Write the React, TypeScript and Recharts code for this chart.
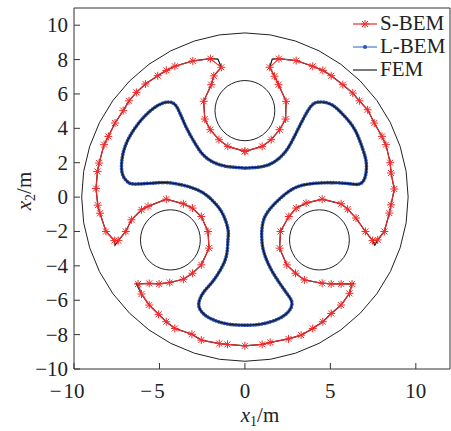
import React from "react";
import { ScatterChart, Scatter, XAxis, YAxis, ReferenceLine } from "recharts";

// ---- data (x1, x2 in metres) ----

// S-BEM nodes, closed contour, clockwise from the inner point under the top hole
const sBemNodes: [number, number][] = [
  [0, 2.66], [-1.0, 2.95], [-1.52, 3.34], [-2.03, 3.92], [-2.35, 4.54], [-2.41, 5.57],
  [-1.97, 6.54], [-1.82, 7.05], [-1.38, 7.55], [-2.02, 8.05], [-3.05, 7.92], [-4.1, 7.61],
  [-4.6, 7.37], [-5.1, 7.06], [-5.82, 6.58], [-6.35, 6.09], [-6.78, 5.6], [-7.12, 5.03],
  [-7.6, 4.31], [-7.99, 3.53], [-8.24, 3.05], [-8.53, 1.98], [-8.63, 1.49], [-8.71, 0.5],
  [-8.61, -0.47], [-8.48, -0.94], [-8.13, -2.0], [-7.64, -2.53], [-7.41, -2.53], [-6.97, -2.0],
  [-6.64, -1.32], [-6.05, -0.74], [-5.67, -0.54], [-4.6, -0.12], [-3.6, -0.39], [-3.07, -0.64],
  [-2.55, -1.13], [-2.16, -2.0], [-2.1, -2.97], [-2.55, -3.94], [-3.07, -4.43], [-3.6, -4.78],
  [-4.4, -4.97], [-5.02, -5.05], [-5.6, -5.02], [-6.25, -5.05], [-6.05, -5.64], [-5.6, -6.28],
  [-5.05, -6.82], [-4.6, -7.25], [-4.1, -7.64], [-3.1, -7.98], [-2.55, -8.32], [-1.5, -8.52],
  [-1.02, -8.57], [0, -8.65], [1.01, -8.57], [1.48, -8.45], [2.55, -8.25], [3.29, -8.03],
  [3.97, -7.64], [4.56, -7.25], [5.05, -6.77], [5.63, -6.28], [6.12, -5.6], [6.27, -5.05],
  [5.63, -5.05], [5.05, -5.05], [4.52, -5.01], [3.48, -4.82], [2.96, -4.43], [2.45, -3.94],
  [2.03, -2.97], [2.08, -2.0], [2.57, -1.13], [3.0, -0.64], [3.58, -0.35], [4.52, -0.12],
  [5.63, -0.39], [6.01, -0.7], [6.5, -1.22], [7.05, -2.0], [7.47, -2.53], [7.77, -2.49],
  [8.16, -2.0], [8.45, -0.93], [8.55, -0.45], [8.74, 0.47], [8.55, 1.4], [8.5, 2.0],
  [8.25, 3.05], [8.02, 3.53], [7.57, 4.31], [7.18, 5.08], [6.7, 5.6], [6.31, 6.05],
  [5.73, 6.54], [5.05, 7.06], [4.56, 7.37], [3.97, 7.61], [3.0, 7.94], [1.99, 8.05],
  [1.45, 7.55], [1.73, 7.03], [1.97, 6.54], [2.41, 5.57], [2.38, 4.54], [2.03, 3.92],
  [1.54, 3.34], [1.01, 2.95], [0, 2.66],
];

// FEM contour follows the same path but reaches the sharp corners: [insert after node, x1, x2]
const femCorners: [number, number, number][] = [
  [8, -1.58, 8.03], [27, -7.6, -2.8], [45, -6.36, -5.03],
  [65, 6.38, -5.03], [82, 7.6, -2.8], [101, 1.6, 8.03],
];

// L-BEM contour (dense nodes), closed
const lBemNodes: [number, number][] = [
  [0, 1.69], [-1.09, 1.79], [-1.87, 2.04], [-2.45, 2.47], [-2.93, 3.15], [-3.42, 4.03],
  [-3.81, 4.9], [-4.1, 5.39], [-4.49, 5.53], [-5.08, 5.34], [-5.76, 4.81], [-6.35, 4.13],
  [-6.83, 3.36], [-7.12, 2.58], [-7.22, 1.81], [-7.12, 1.22], [-6.83, 0.86], [-6.35, 0.76],
  [-5.18, 0.83], [-4.4, 0.83], [-3.42, 0.64], [-2.45, 0.25], [-1.77, -0.33], [-1.28, -1.01],
  [-0.99, -1.88], [-0.99, -2.47], [-1.09, -3.44], [-1.48, -4.31], [-1.96, -5.0], [-2.45, -5.58],
  [-2.7, -6.2], [-2.55, -6.65], [-2.06, -7.04], [-1.09, -7.37], [0, -7.45], [1.05, -7.37],
  [2.22, -6.94], [2.75, -6.26], [2.51, -5.68], [2.03, -5.0], [1.54, -4.22], [1.15, -3.34],
  [0.99, -2.47], [1.05, -1.5], [1.44, -0.72], [2.22, 0.06], [3.19, 0.64], [4.56, 0.83],
  [5.92, 0.8], [6.7, 0.76], [7.05, 1.22], [7.1, 2.0], [6.9, 2.78], [6.42, 3.94],
  [5.73, 4.81], [5.05, 5.39], [4.33, 5.53], [3.88, 5.3], [3.4, 4.52], [2.81, 3.36],
  [2.32, 2.58], [1.64, 2.0], [0.86, 1.75], [0, 1.69],
];

// circular boundaries: outer wall and the three holes
const outerRadius = 9.55;
const holeRadius = 1.75;
const holeCenters: [number, number][] = [[0, 5.03], [-4.36, -2.49], [4.36, -2.49]];
// unit 40-gon (cos, sin every 9 degrees)
const unitRing: [number, number][] = [
  [1, 0], [0.988, 0.156], [0.951, 0.309], [0.891, 0.454], [0.809, 0.588], [0.707, 0.707],
  [0.588, 0.809], [0.454, 0.891], [0.309, 0.951], [0.156, 0.988], [0, 1], [-0.156, 0.988],
  [-0.309, 0.951], [-0.454, 0.891], [-0.588, 0.809], [-0.707, 0.707], [-0.809, 0.588],
  [-0.891, 0.454], [-0.951, 0.309], [-0.988, 0.156], [-1, 0], [-0.988, -0.156],
  [-0.951, -0.309], [-0.891, -0.454], [-0.809, -0.588], [-0.707, -0.707], [-0.588, -0.809],
  [-0.454, -0.891], [-0.309, -0.951], [-0.156, -0.988], [0, -1], [0.156, -0.988],
  [0.309, -0.951], [0.454, -0.891], [0.588, -0.809], [0.707, -0.707], [0.809, -0.588],
  [0.891, -0.454], [0.951, -0.309], [0.988, -0.156], [1, 0],
];

const xTicks = [-10, -5, 0, 5, 10];
const yTicks = [-10, -8, -6, -4, -2, 0, 2, 4, 6, 8, 10];

// ---- tables for recharts ----
type Pt = { x: number; y: number };
const toPts = (arr: [number, number][]): Pt[] => arr.map(([x, y]) => ({ x, y }));

const sBem = toPts(sBemNodes);
const lBem = toPts(lBemNodes);
const femOuterContour: Pt[] = [];
sBem.forEach((p, i) => {
  femOuterContour.push(p);
  femCorners.filter((c) => c[0] === i).forEach((c) => femOuterContour.push({ x: c[1], y: c[2] }));
});
const femWall = unitRing.map(([c, s]) => ({ x: outerRadius * c, y: outerRadius * s }));
const femHoles = holeCenters.map(([cx, cy]) =>
  unitRing.map(([c, s]) => ({ x: cx + holeRadius * c, y: cy + holeRadius * s }))
);

const FONT = "'Liberation Serif', 'DejaVu Serif', serif";
const TEXT = "#222";
const RED = "#f22a2a";
const BLUE = "#2d52b3";

function Asterisk({ cx, cy }: { cx?: number; cy?: number }) {
  if (cx == null || cy == null) return <g />;
  return (
    <g stroke={RED} strokeWidth={1}>
      <line x1={cx - 4} y1={cy} x2={cx + 4} y2={cy} />
      <line x1={cx} y1={cy - 4} x2={cx} y2={cy + 4} />
      <line x1={cx - 3} y1={cy - 3} x2={cx + 3} y2={cy + 3} />
      <line x1={cx - 3} y1={cy + 3} x2={cx + 3} y2={cy - 3} />
    </g>
  );
}

const NoMark = () => <g />;

function XTick({ x, y, payload }: any) {
  const v = payload.value as number;
  const s = String(Math.abs(v));
  const w = s.length * 10.5;
  return (
    <g>
      <line x1={x} y1={y} x2={x} y2={y - 6} stroke="#333" />
      <text x={x} y={y + 29} textAnchor="middle" fontFamily={FONT} fontSize={21} fill={TEXT}>{s}</text>
      {v < 0 && (
        <text x={x - w / 2 - 2} y={y + 29} textAnchor="end" fontFamily={FONT} fontSize={21} fill={TEXT}>−</text>
      )}
    </g>
  );
}

function YTick({ x, y, payload }: any) {
  const v = payload.value as number;
  return (
    <g>
      <line x1={x} y1={y} x2={x + 6} y2={y} stroke="#333" />
      <text x={x - 6} y={y + 7} textAnchor="end" fontFamily={FONT} fontSize={21} fill={TEXT}>
        {v < 0 ? `−${Math.abs(v)}` : String(v)}
      </text>
    </g>
  );
}

function LegendRow({ label, kind }: { label: string; kind: "s" | "l" | "f" }) {
  return (
    <div style={{ display: "flex", alignItems: "center", height: 23 }}>
      <svg width={26} height={12} style={{ marginRight: 2 }}>
        {kind === "s" && (
          <>
            <line x1={1} y1={6} x2={25} y2={6} stroke={RED} strokeWidth={1.2} />
            <Asterisk cx={13} cy={6} />
          </>
        )}
        {kind === "l" && (
          <>
            <line x1={1} y1={6} x2={25} y2={6} stroke="#4a78d0" strokeWidth={1.2} />
            <circle cx={13} cy={6} r={2} fill={BLUE} />
          </>
        )}
        {kind === "f" && <line x1={1} y1={6} x2={25} y2={6} stroke="#222" strokeWidth={1.2} />}
      </svg>
      <span style={{ fontFamily: FONT, fontSize: 21, color: TEXT, lineHeight: "23px" }}>{label}</span>
    </div>
  );
}

export default function App() {
  return (
    <div style={{ position: "absolute", left: 0, top: 0, width: 451, height: 431, background: "#fff" }}>
      <ScatterChart width={451} height={431} margin={{ top: 8, right: 1, bottom: 0, left: 0 }}>
        <XAxis
          type="number"
          dataKey="x"
          domain={[-10, 12]}
          ticks={xTicks}
          allowDataOverflow
          height={62}
          tickSize={0}
          tickMargin={0}
          tickLine={false}
          axisLine={{ stroke: "#333" }}
          tick={<XTick />}
          interval={0}
        />
        <YAxis
          type="number"
          dataKey="y"
          domain={[-10, 11]}
          ticks={yTicks}
          allowDataOverflow
          width={74}
          tickSize={0}
          tickMargin={0}
          tickLine={false}
          axisLine={{ stroke: "#333" }}
          tick={<YTick />}
          interval={0}
        />
        <ReferenceLine y={11} stroke="#333" />
        <ReferenceLine x={12} stroke="#333" />

        {/* L-BEM: dense blue nodes */}
        <Scatter
          data={lBem}
          isAnimationActive={false}
          shape={NoMark}
          line={{ stroke: BLUE, strokeWidth: 3.7, strokeDasharray: "0.1 2.8", strokeLinecap: "round" }}
          lineJointType="natural"
        />
        {/* FEM contours */}
        <Scatter data={femWall} isAnimationActive={false} shape={NoMark} line={{ stroke: "#222", strokeWidth: 1 }} />
        {femHoles.map((h, i) => (
          <Scatter key={i} data={h} isAnimationActive={false} shape={NoMark} line={{ stroke: "#222", strokeWidth: 1 }} />
        ))}
        <Scatter data={lBem} isAnimationActive={false} shape={NoMark} line={{ stroke: "#111", strokeWidth: 1.1 }} lineJointType="natural" />
        <Scatter data={femOuterContour} isAnimationActive={false} shape={NoMark} line={{ stroke: "#111", strokeWidth: 1.2 }} />
        {/* S-BEM */}
        <Scatter data={sBem} isAnimationActive={false} shape={<Asterisk />} line={{ stroke: RED, strokeWidth: 1.1 }} />
      </ScatterChart>

      <div style={{ position: "absolute", left: 352, top: 12 }}>
        <LegendRow label="S-BEM" kind="s" />
        <LegendRow label="L-BEM" kind="l" />
        <LegendRow label="FEM" kind="f" />
      </div>

      <svg width={451} height={431} style={{ position: "absolute", left: 0, top: 0, pointerEvents: "none" }}>
        <text x={260} y={422} textAnchor="middle" fontFamily={FONT} fontSize={21} fill={TEXT}>
          <tspan fontStyle="italic">x</tspan>
          <tspan fontSize={14} dy={4}>1</tspan>
          <tspan dy={-4}>/m</tspan>
        </text>
        <text transform="translate(31,191) rotate(-90)" textAnchor="middle" fontFamily={FONT} fontSize={21} fill={TEXT}>
          <tspan fontStyle="italic">x</tspan>
          <tspan fontSize={14} dy={4}>2</tspan>
          <tspan dy={-4}>/m</tspan>
        </text>
      </svg>
    </div>
  );
}
